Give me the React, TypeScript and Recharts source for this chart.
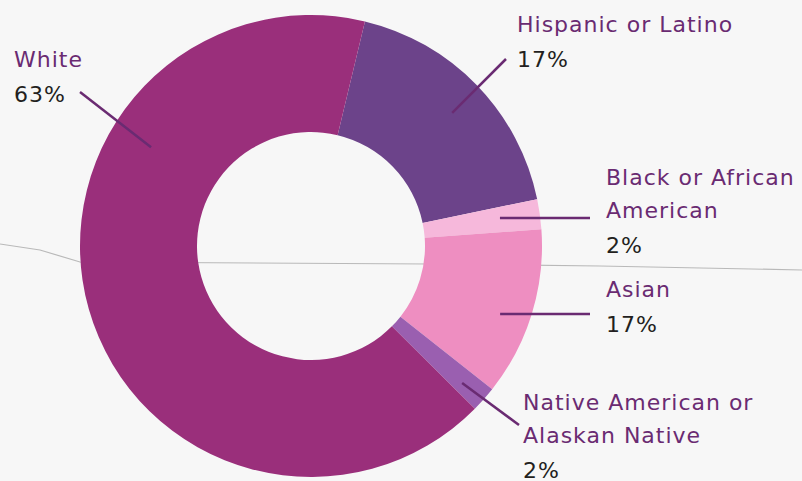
import React from "react";
import { PieChart, Pie, Cell } from "recharts";

// slice order runs clockwise from the top
const categories = [
  "Hispanic or Latino",
  "Black or African American",
  "Asian",
  "Native American or Alaskan Native",
  "White",
];
const shares = [18.0, 2.1, 11.8, 1.8, 66.3];
const percentLabels = ["17%", "2%", "17%", "2%", "63%"];
const titleLines = [
  ["Hispanic or Latino"],
  ["Black or African", "American"],
  ["Asian"],
  ["Native American or", "Alaskan Native"],
  ["White"],
];

const COLORS = ["#6c438a", "#f6b8db", "#ee8ec1", "#9a5fb0", "#9a2f7b"];
const TITLE_COLOR = "#6a2b72";
const PCT_COLOR = "#231f20";

// label placement (leader line start angle/radius, outer end, text anchor)
const LAYOUT = [
  { angle: 43.3, r: 194, to: [506, 59], tx: 517, ty: 32 },
  { angle: 8.4, r: 191, to: [590, 218], tx: 606, ty: 185 },
  { angle: -19.8, r: 201, to: [590, 314], tx: 606, ty: 297 },
  { angle: -42.2, r: 204, to: [519, 425], tx: 523, ty: 410 },
  { angle: 148.3, r: 188, to: [80, 92], tx: 14, ty: 67 },
];

const data = categories.map((name, i) => ({ name, value: shares[i] }));
const RAD = Math.PI / 180;

const renderLabel = (props: any) => {
  const { cx, cy, midAngle, index } = props;
  const l = LAYOUT[index];
  const a = l.angle ?? midAngle;
  const x1 = cx + l.r * Math.cos(-a * RAD);
  const y1 = cy + l.r * Math.sin(-a * RAD);
  const lines = titleLines[index];
  const textStyle = { fontFamily: "DejaVu Sans", fontSize: 22, letterSpacing: 1 };
  return (
    <g key={`lbl-${index}`}>
      <line x1={x1} y1={y1} x2={l.to[0]} y2={l.to[1]} stroke={TITLE_COLOR} strokeWidth={2.5} />
      {lines.map((t, k) => (
        <text key={k} x={l.tx} y={l.ty + k * 33} fill={TITLE_COLOR} style={textStyle}>
          {t}
        </text>
      ))}
      <text x={l.tx} y={l.ty + (lines.length - 1) * 33 + 35} fill={PCT_COLOR} style={textStyle}>
        {percentLabels[index]}
      </text>
    </g>
  );
};

export default function App() {
  return (
    <div style={{ position: "absolute", left: 0, top: 0, width: 802, height: 481, background: "#f7f7f7", overflow: "hidden" }}>
      <svg width={802} height={481} style={{ position: "absolute", left: 0, top: 0 }}>
        <path d="M0 244 L40 250 L80 262 L430 264 L600 266 L802 270" stroke="#b9b9b9" strokeWidth={1.2} fill="none" />
      </svg>
      <div style={{ position: "absolute", left: 0, top: 0 }}>
        <PieChart width={802} height={481} margin={{ top: 0, right: 0, bottom: 0, left: 0 }}>
          <Pie
            data={data}
            dataKey="value"
            nameKey="name"
            cx={311}
            cy={246}
            innerRadius={114}
            outerRadius={231}
            startAngle={76.5}
            endAngle={76.5 - 360}
            stroke="none"
            label={renderLabel}
            labelLine={false}
            isAnimationActive={false}
          >
            {data.map((d, i) => (
              <Cell key={d.name} fill={COLORS[i]} />
            ))}
          </Pie>
        </PieChart>
      </div>
    </div>
  );
}
